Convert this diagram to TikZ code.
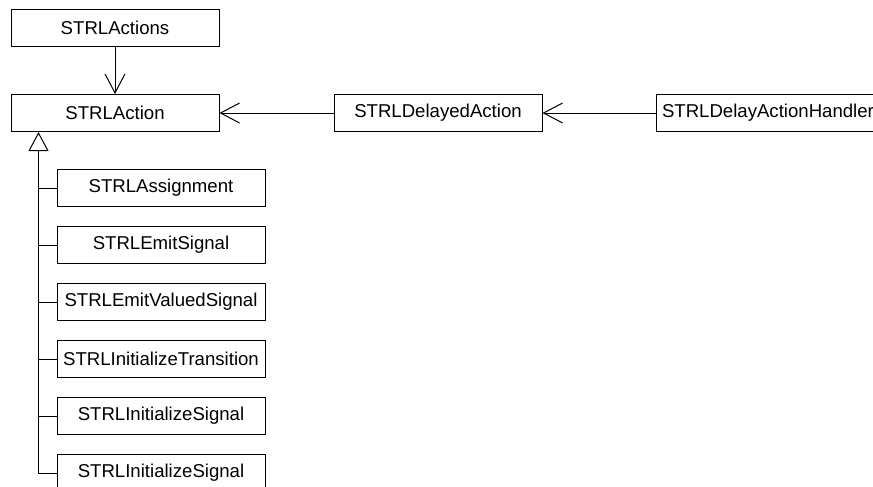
\documentclass[tikz,border=0pt]{standalone}
\usepackage{fontspec}
\setmainfont{Liberation Sans}
\usepackage{tikz}
\usetikzlibrary{positioning,arrows.meta,calc}
\tikzset{
	every node/.style = { align = center },
	cls/.style = { draw, rectangle, fill=white, minimum width=104pt, minimum height=18.5pt, inner sep=1pt, font=\fontsize{9.3}{11}\selectfont },
	wide/.style = { cls, inner xsep=3pt },
	assoc/.style = { -{Straight Barb[length=9.5pt,width=10pt]} },
	gen/.style = { -{Triangle[open,length=9.5pt,width=10pt,fill=white]} },
}

\begin{document}
\begin{tikzpicture}[node distance=23.5pt, line width=0.5pt]
\useasboundingbox (0,0) rectangle (436.5pt,-243.5pt);
\clip (0,0) rectangle (436.5pt,-243.5pt);

\node (acts)    [cls] at (57.5pt,-14pt) {STRLActions};
\node (act)     [cls,below=of acts] {STRLAction};
\draw[assoc] (acts) -- (act);

\node (delayed) [cls,right=57pt of act] {STRLDelayedAction};
\node (handler) [wide,right=56.5pt of delayed] {STRLDelayActionHandler};
\draw[assoc] (delayed) -- (act);
\draw[assoc] (handler) -- (delayed);

% subclasses of STRLAction
\node (assign)   [cls,below right=18.5pt and 23pt of act.south west] {STRLAssignment};
\node (emit)     [cls,below=9.5pt of assign]  {STRLEmitSignal};
\node (emitval)  [cls,below=9.5pt of emit]    {STRLEmitValuedSignal};
\node (inittr)   [cls,below=9.5pt of emitval] {STRLInitializeTransition};
\node (initsig)  [cls,below=9.5pt of inittr]  {STRLInitializeSignal};
\node (initsig2) [cls,below=9.5pt of initsig] {STRLInitializeSignal};

\coordinate (trunk) at ($(act.south west)+(14pt,0)$);
\draw[gen] (initsig2.west) -| (trunk);
\foreach \n in {assign,emit,emitval,inittr,initsig}
	\draw (\n.west) -- (\n.west-|trunk);

\end{tikzpicture}
\end{document}
